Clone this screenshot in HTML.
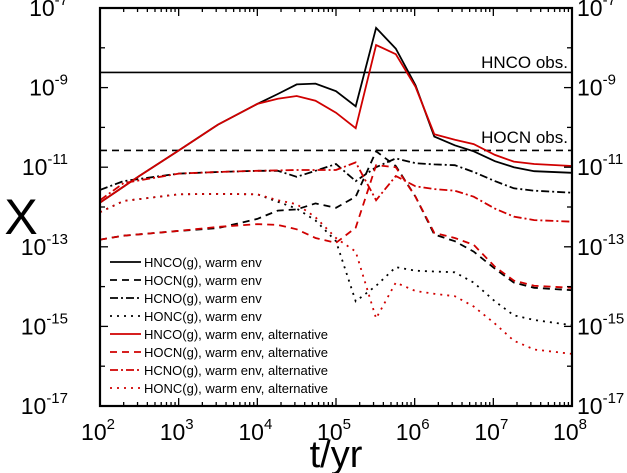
<!DOCTYPE html>
<html><head><meta charset="utf-8">
<style>
html,body{margin:0;padding:0;background:#fff;}
svg{display:block;font-family:"Liberation Sans",Arial,sans-serif;}
</style></head>
<body>
<svg id="chart" width="627" height="473" viewBox="0 0 627 473"></svg>
<script>
// ---- data (log10 t, log10 X) ----
const tHNCO = [2,2.5,3,3.5,4,4.26,4.5,4.74,5.0,5.25,5.51,5.76,6.01,6.25,6.51,6.75,7.02,7.26,7.52,8];
const hncoWarm = [-11.89,-11.22,-10.58,-9.93,-9.41,-9.16,-8.92,-8.90,-9.09,-9.47,-7.5,-8.02,-8.94,-10.23,-10.45,-10.6,-10.85,-11.0,-11.1,-11.14];
const hncoAlt  = [-11.89,-11.22,-10.58,-9.93,-9.41,-9.28,-9.21,-9.33,-9.63,-10.02,-7.93,-8.16,-8.98,-10.17,-10.31,-10.42,-10.69,-10.86,-10.92,-10.97];
const tOther = [2,2.3,3,3.5,4,4.26,4.5,4.74,5.0,5.25,5.51,5.76,6.01,6.25,6.51,6.75,7.02,7.26,7.52,8];
const hocnWarm = [-12.82,-12.72,-12.6,-12.53,-12.3,-12.09,-12.06,-11.91,-12.02,-11.74,-10.6,-10.97,-11.74,-12.69,-12.86,-13.12,-13.55,-13.9,-14.03,-14.09];
const hocnAlt  = [-12.82,-12.72,-12.6,-12.5,-12.43,-12.45,-12.56,-12.78,-12.9,-12.52,-10.95,-11.0,-11.74,-12.65,-12.78,-12.95,-13.5,-13.85,-13.98,-14.03];
const hcnoWarm = [-11.57,-11.35,-11.16,-11.12,-11.09,-11.09,-11.24,-11.09,-10.92,-11.35,-11.0,-10.78,-10.9,-10.93,-10.95,-11.12,-11.35,-11.53,-11.59,-11.64];
const hcnoAlt  = [-11.83,-11.4,-11.16,-11.12,-11.09,-11.08,-11.07,-11.07,-11.07,-10.88,-11.83,-11.22,-11.48,-11.55,-11.59,-11.74,-12.04,-12.24,-12.33,-12.37];
const honcWarm = [-12.13,-11.85,-11.68,-11.67,-11.68,-11.87,-12.04,-12.34,-12.86,-14.37,-13.98,-13.51,-13.6,-13.62,-13.64,-13.9,-14.37,-14.72,-14.84,-14.97];
const honcAlt  = [-12.13,-11.85,-11.68,-11.67,-11.68,-11.83,-11.93,-12.26,-12.78,-13.12,-14.8,-13.9,-14.11,-14.18,-14.24,-14.5,-14.93,-15.36,-15.58,-15.69];
const obsHNCO = -8.62;
const obsHOCN = -10.58;
const xTicks = [2,3,4,5,6,7,8];
const yTicks = [-7,-9,-11,-13,-15,-17];

const L=100,R=572,T=8,B=406;
const xs = v => L + (v-2)/6*(R-L);
const ys = v => T + (-7 - v)/10*(B-T);
const svg=document.getElementById('chart');
const NS='http://www.w3.org/2000/svg';
function mk(tag,attrs,parent){const e=document.createElementNS(NS,tag);for(const k in attrs)e.setAttribute(k,attrs[k]);(parent||svg).appendChild(e);return e;}

let e=mk('line',{x1:L,x2:R,y1:ys(obsHNCO),y2:ys(obsHNCO),stroke:'#000','stroke-width':1.6});


e=mk('line',{x1:L,x2:R,y1:ys(obsHOCN),y2:ys(obsHOCN),stroke:'#000','stroke-width':1.6,'stroke-dasharray':'7,5'});


e=mk('text',{x:568,y:68,'font-size':17,'text-anchor':'end'});e.textContent='HNCO obs.';


e=mk('text',{x:568,y:143,'font-size':17,'text-anchor':'end'});e.textContent='HOCN obs.';



const series=[
 ['hnco-warm',tHNCO,hncoWarm,'#000',''],
 ['hocn-warm',tOther,hocnWarm,'#000','7,5'],
 ['hcno-warm',tOther,hcnoWarm,'#000','8,3,2,3'],
 ['honc-warm',tOther,honcWarm,'#000','2,5'],
 ['hnco-alt',tHNCO,hncoAlt,'#d00000',''],
 ['hocn-alt',tOther,hocnAlt,'#d00000','7,5'],
 ['hcno-alt',tOther,hcnoAlt,'#d00000','8,3,2,3'],
 ['honc-alt',tOther,honcAlt,'#d00000','2,5'],
];
const clip=mk('clipPath',{id:'pc'});mk('rect',{x:L,y:T,width:R-L,height:B-T},clip);
series.forEach(s=>{
  const d=s[1].map((t,i)=>(i?'L':'M')+xs(t).toFixed(1)+','+ys(s[2][i]).toFixed(1)).join('');
  const p=mk('path',{d:d,fill:'none',stroke:s[3],'stroke-width':1.8,'stroke-dasharray':s[4],'clip-path':'url(#pc)'});
  
  
});

e=mk('rect',{x:L,y:T,width:R-L,height:B-T,fill:'none',stroke:'#000','stroke-width':2.2});


for(let d=2;d<8;d++){for(let m=1;m<10;m++){const v=d+Math.log10(m);const x=xs(v);const len=m===1?8:4;
 mk('line',{x1:x,x2:x,y1:B,y2:B-len,stroke:'#000','stroke-width':1.3});mk('line',{x1:x,x2:x,y1:T,y2:T+len,stroke:'#000','stroke-width':1.3});}}
for(let v=-17;v<=-7;v++){const y=ys(v);const len=(v%2!==0)?8:5;
 mk('line',{x1:L,x2:L+len,y1:y,y2:y,stroke:'#000','stroke-width':1.3});mk('line',{x1:R,x2:R-len,y1:y,y2:y,stroke:'#000','stroke-width':1.3});}
xTicks.forEach(v=>{const t=mk('text',{x:xs(v)-2,y:B+34,'font-size':23,'text-anchor':'middle'});
 
 
 t.innerHTML='10<tspan font-size="15" dy="-11">'+v+'</tspan>';});
yTicks.forEach(v=>{
 const t=mk('text',{x:68,y:ys(v)+8,'font-size':23,'text-anchor':'end'});
 
 
 t.innerHTML='10<tspan font-size="15" dy="-11">'+v+'</tspan>';
 const t2=mk('text',{x:577,y:ys(v)+8,'font-size':23});
 
 
 t2.innerHTML='10<tspan font-size="15" dy="-11">'+v+'</tspan>';
});
e=mk('text',{x:336,y:467,'font-size':38,'text-anchor':'middle'});e.textContent='t/yr';


e=mk('text',{x:21,y:234,'font-size':50,'text-anchor':'middle'});e.textContent='X';



const legLabels=['HNCO(g), warm env','HOCN(g), warm env','HCNO(g), warm env','HONC(g), warm env',
 'HNCO(g), warm env, alternative','HOCN(g), warm env, alternative','HCNO(g), warm env, alternative','HONC(g), warm env, alternative'];
const legY=[262,280,298,316,334,352,370,388];
const lg=mk('g',{});


series.forEach((s,i)=>{
 const l=mk('line',{x1:110,x2:141,y1:legY[i],y2:legY[i],stroke:s[3],'stroke-width':1.8,'stroke-dasharray':s[4]},lg);
 
 
 const t=mk('text',{x:144,y:legY[i]+5,'font-size':13},lg);t.textContent=legLabels[i];
 
 
});
</script>
</body></html>
